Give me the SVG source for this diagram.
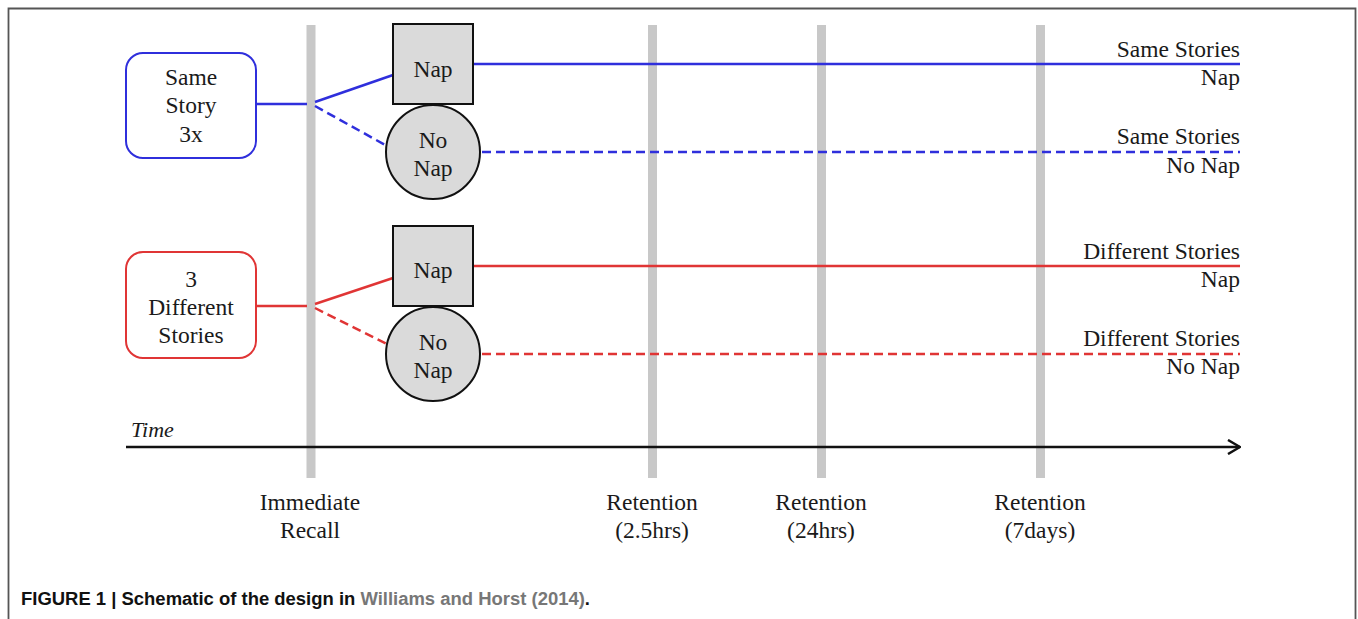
<svg xmlns="http://www.w3.org/2000/svg" width="1358" height="619" viewBox="0 0 1358 619">
<defs>
<style>
.t{font-family:"Liberation Serif","Times New Roman",serif;font-size:23.5px;fill:#1a1a1a;text-anchor:middle}
.r{text-anchor:end}
.bar{fill:#c8c8c8}
.node{fill:#dadada;stroke:#111;stroke-width:2}
.blue{stroke:#2f2fdc;stroke-width:2.5;fill:none}
.red{stroke:#e03535;stroke-width:2.5;fill:none}
.dash{stroke-dasharray:9 5}
.cap{font-family:"Liberation Sans",Arial,sans-serif;font-weight:bold;font-size:18px;fill:#111}
</style>
<marker id="arr" viewBox="0 0 14 16" refX="13" refY="8" markerWidth="14" markerHeight="16" markerUnits="userSpaceOnUse" orient="auto">
<path d="M1,1 L13,8 L1,15" fill="none" stroke="#111" stroke-width="2.5"/>
</marker>
</defs>
<rect width="1358" height="619" fill="#fff"/>
<path d="M8.5,619 V8.5 H1355.5 V619" fill="none" stroke="#555" stroke-width="1.8"/>

<g id="timebars">
<rect class="bar" x="306.5" y="25" width="9" height="453"/>
<rect class="bar" x="648" y="25" width="9" height="453"/>
<rect class="bar" x="817" y="25" width="9" height="453"/>
<rect class="bar" x="1036" y="25" width="9" height="453"/>
</g>

<g id="connectors">
<line class="blue" x1="256" y1="104" x2="307" y2="104"/>
<line class="blue" x1="315" y1="102" x2="393" y2="75"/>
<line class="blue dash" x1="315" y1="106" x2="387" y2="146"/>
<line class="blue" x1="473" y1="64" x2="1240" y2="64"/>
<line class="blue dash" x1="482" y1="152" x2="1240" y2="152"/>
<line class="red" x1="256" y1="306" x2="307" y2="306"/>
<line class="red" x1="315" y1="304" x2="393" y2="278"/>
<line class="red dash" x1="315" y1="308" x2="387" y2="344"/>
<line class="red" x1="473" y1="266" x2="1240" y2="266"/>
<line class="red dash" x1="482" y1="354" x2="1240" y2="354"/>
<line x1="126" y1="447" x2="1240" y2="447" stroke="#111" stroke-width="2.5" marker-end="url(#arr)"/>
</g>

<g id="same-story">
<rect x="126" y="53" width="130" height="105" rx="17" fill="#fff" stroke="#2f2fdc" stroke-width="2"/>
<text class="t" x="191" y="85">Same</text>
<text class="t" x="191" y="113">Story</text>
<text class="t" x="191" y="142">3x</text>
</g>
<g id="diff-stories">
<rect x="126" y="252" width="130" height="106" rx="17" fill="#fff" stroke="#e03535" stroke-width="2"/>
<text class="t" x="191" y="287">3</text>
<text class="t" x="191" y="315">Different</text>
<text class="t" x="191" y="343">Stories</text>
</g>

<g id="nap-blue">
<rect class="node" x="393" y="24" width="80" height="80"/>
<text class="t" x="433" y="77">Nap</text>
</g>
<g id="nonap-blue">
<circle class="node" cx="433" cy="152" r="47"/>
<text class="t" x="433" y="148">No</text>
<text class="t" x="433" y="176">Nap</text>
</g>
<g id="nap-red">
<rect class="node" x="393" y="226" width="80" height="80"/>
<text class="t" x="433" y="278">Nap</text>
</g>
<g id="nonap-red">
<circle class="node" cx="433" cy="354" r="47"/>
<text class="t" x="433" y="350">No</text>
<text class="t" x="433" y="378">Nap</text>
</g>

<g id="outcome-labels">
<text class="t r" x="1240" y="57">Same Stories</text>
<text class="t r" x="1240" y="85">Nap</text>
<text class="t r" x="1240" y="144">Same Stories</text>
<text class="t r" x="1240" y="173">No Nap</text>
<text class="t r" x="1240" y="259">Different Stories</text>
<text class="t r" x="1240" y="287">Nap</text>
<text class="t r" x="1240" y="346">Different Stories</text>
<text class="t r" x="1240" y="374">No Nap</text>
</g>

<g id="time-label">
<text class="t" x="131" y="437" style="text-anchor:start;font-style:italic;font-size:22px">Time</text>
</g>

<g id="timepoint-labels">
<text class="t" x="310" y="510">Immediate</text>
<text class="t" x="310" y="538">Recall</text>
<text class="t" x="652" y="510">Retention</text>
<text class="t" x="652" y="538">(2.5hrs)</text>
<text class="t" x="821" y="510">Retention</text>
<text class="t" x="821" y="538">(24hrs)</text>
<text class="t" x="1040" y="510">Retention</text>
<text class="t" x="1040" y="538">(7days)</text>
</g>

<text class="cap" x="21" y="605" textLength="569" lengthAdjust="spacingAndGlyphs">FIGURE 1 | Schematic of the design in <tspan fill="#777">Williams and Horst (2014)</tspan>.</text>
</svg>
